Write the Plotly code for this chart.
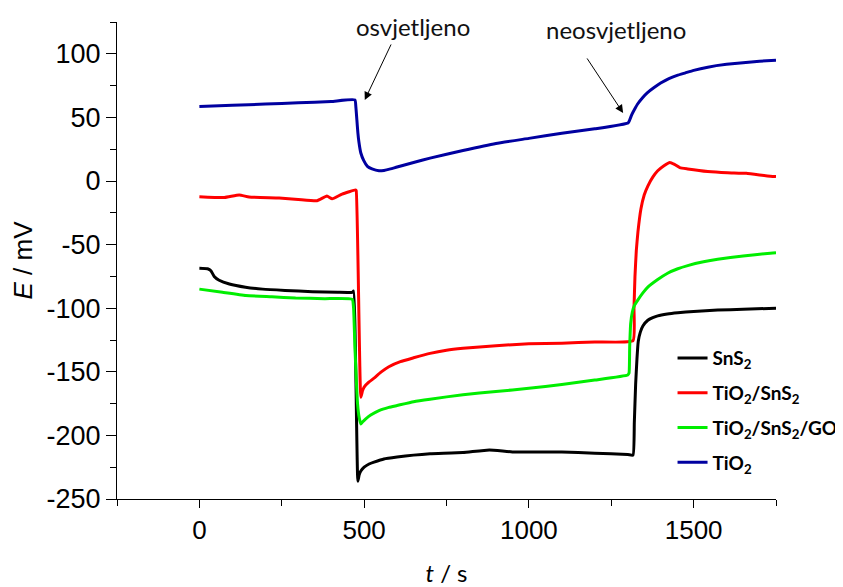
import plotly.graph_objects as go

# ---------------- data ----------------
t_sns2 = [0, 25, 35, 45, 60, 91, 140, 192, 260, 343, 420, 464, 468, 481, 485, 490, 500,
          515, 530, 560, 600, 650, 700, 800, 880, 950, 1100, 1200, 1300, 1316, 1320,
          1324, 1328, 1332, 1338, 1346, 1361, 1376, 1391, 1420, 1452, 1500, 1573, 1650,
          1750]
e_sns2 = [-68.6, -69, -70.5, -75, -78, -81, -83.5, -85, -86, -87, -87.5, -87.5, -86.5,
          -236, -231, -228, -225, -222.5, -221, -218.5, -217, -215.5, -214.5, -213.5,
          -211.5, -213, -213, -214, -215, -215.5, -190, -160, -140, -126, -119, -114,
          -109.5, -107.5, -106, -104.5, -103.5, -102.5, -101.5, -100.8, -100]

t_tio2_sns2 = [0, 76, 121, 151, 242, 300, 357, 387, 403, 433, 474, 476, 490, 495, 500,
               515, 530, 550, 575, 610, 650, 700, 750, 800, 900, 1000, 1100, 1200, 1316,
               1319, 1322, 1326, 1331, 1340, 1350, 1361, 1376, 1391, 1410, 1428, 1442,
               1458, 1482, 1543, 1603, 1660, 1724, 1750]
e_tio2_sns2 = [-12.3, -13, -11, -12.6, -13.4, -14.5, -15.5, -11.8, -14, -10.3, -7, -7.5,
               -170, -165, -162, -158, -155, -150.5, -146, -142, -139, -135.5, -133,
               -131.5, -129.5, -128, -127.5, -126.5, -125.5, -100, -75, -55, -40, -22,
               -11, -4, 3, 8, 12, 14.5, 13, 10.5, 9.5, 7.5, 6.5, 6, 4, 3.5]

t_tio2_sns2_go = [0, 70, 141, 220, 292, 380, 464, 468, 472, 476, 480, 485, 490, 495,
                  505, 520, 545, 575, 600, 650, 700, 800, 900, 1000, 1100, 1200, 1300,
                  1304, 1306, 1309, 1314, 1320, 1331, 1346, 1361, 1391, 1421, 1452, 1482,
                  1530, 1573, 1650, 1724, 1750]
e_tio2_sns2_go = [-85, -87.5, -90, -91, -92, -92.5, -93, -100, -130, -155, -175, -186,
                  -191, -189.5, -187, -184, -180.5, -178, -176.5, -173.5, -171.5, -168,
                  -165.5, -163, -160, -156.5, -152.5, -151, -130, -112, -103, -98, -93.5,
                  -88, -83.5, -77.5, -72.5, -69, -66.5, -63.5, -61.5, -59, -57, -56.5]

t_tio2 = [0, 100, 200, 300, 400, 472, 475, 478, 481, 484, 490, 499, 510, 524, 545, 560,
          580, 600, 650, 700, 800, 900, 1000, 1100, 1200, 1301, 1306, 1312, 1320, 1330,
          1345, 1360, 1380, 1400, 1425, 1450, 1475, 1500, 1543, 1600, 1650, 1700, 1750]
e_tio2 = [58.5, 59.5, 60.5, 61.5, 62.5, 63.7, 58, 48, 38, 31, 22, 16, 11.5, 9.5, 8, 8.3,
          9.5, 11, 14.5, 18, 24, 29.5, 33.5, 37.5, 41, 45.6, 48, 52, 56, 60.5, 65.5,
          69.5, 73.5, 77, 80.5, 83, 85, 87, 89.5, 91.7, 93, 94.2, 95]

series_names = ["SnS<sub>2</sub>", "TiO<sub>2</sub>/SnS<sub>2</sub>",
                "TiO<sub>2</sub>/SnS<sub>2</sub>/GO", "TiO<sub>2</sub>"]
series_colors = ["#000000", "#ff0000", "#00ee00", "#0000a0"]

x_ticks = [0, 500, 1000, 1500]
x_tick_text = ["0", "500", "1000", "1500"]
y_ticks = [100, 50, 0, -50, -100, -150, -200, -250]
y_tick_text = ["100", "50", "0", "-50", "-100", "-150", "-200", "-250"]

labels = ["osvjetljeno", "neosvjetljeno"]
label_pos = [(649, 121.5), (1264, 119.5)]
arrow_tip = [(502, 63.7), (1286, 53.5)]
arrow_off = [(27, -57), (-37, -56)]

# ---------------- figure ----------------
fig = go.Figure()
data = [(t_sns2, e_sns2), (t_tio2_sns2, e_tio2_sns2),
        (t_tio2_sns2_go, e_tio2_sns2_go), (t_tio2, e_tio2)]
for i, ((tx, ey), name, col) in enumerate(zip(data, series_names, series_colors)):
    fig.add_trace(go.Scatter(x=tx, y=ey, mode="lines", name=name,
                             legendgroup=f"g{i}",
                             line=dict(color=col, width=3, shape="spline",
                                       smoothing=0.4)))

for txt, (lx, ly) in zip(labels, label_pos):
    fig.add_annotation(x=lx, y=ly, text=txt, showarrow=False,
                       font=dict(family="Lato", size=24, color="#111"),
                       xanchor="center", yanchor="middle")
for (tx, ty), (ax, ay) in zip(arrow_tip, arrow_off):
    fig.add_annotation(x=tx, y=ty, text="", showarrow=True, ax=ax, ay=ay,
                       arrowhead=2, arrowsize=1.6, arrowwidth=1, arrowcolor="#000")

axis_common = dict(showline=True, linecolor="black", linewidth=1.3, ticks="outside",
                   tickwidth=1.3, tickcolor="black", showgrid=False,
                   zeroline=False, mirror=False, automargin=False)

fig.update_xaxes(range=[-250, 1750], tickvals=x_ticks, ticktext=x_tick_text,
                 ticklen=8,
                 tickfont=dict(family="Liberation Sans", size=26, color="#000"),
                 minor=dict(tickvals=[-250, 250, 750, 1250, 1750], ticks="outside",
                            ticklen=6, tickwidth=1.3, tickcolor="black"),
                 title=dict(text="<i>t</i> / s", standoff=26,
                            font=dict(family="Lato", size=24, color="#000")),
                 **axis_common)
fig.update_yaxes(range=[-250, 125], tickvals=y_ticks, ticktext=y_tick_text,
                 ticklen=10,
                 tickfont=dict(family="Liberation Sans", size=27, color="#000"),
                 minor=dict(tickvals=[125, 75, 25, -25, -75, -125, -175, -225],
                            ticks="outside", ticklen=6, tickwidth=1.3,
                            tickcolor="black"),
                 title=dict(text="<i>E</i> / mV", standoff=6,
                            font=dict(family="Liberation Sans", size=26, color="#000")),
                 **axis_common)

# the page has an 8px body margin: figure 835x579 puts the plot area at
# x 117..776, y 22..499 in the window
fig.update_layout(
    width=835, height=579,
    margin=dict(l=109, r=67, t=14, b=88, autoexpand=False),
    paper_bgcolor="white", plot_bgcolor="white",
    showlegend=True,
    legend=dict(x=0.843, y=0.335, xanchor="left", yanchor="top",
                bgcolor="rgba(0,0,0,0)", tracegroupgap=7,
                font=dict(family="Lato", size=19, color="#000", weight="bold")),
)

fig.write_html("out.html")
